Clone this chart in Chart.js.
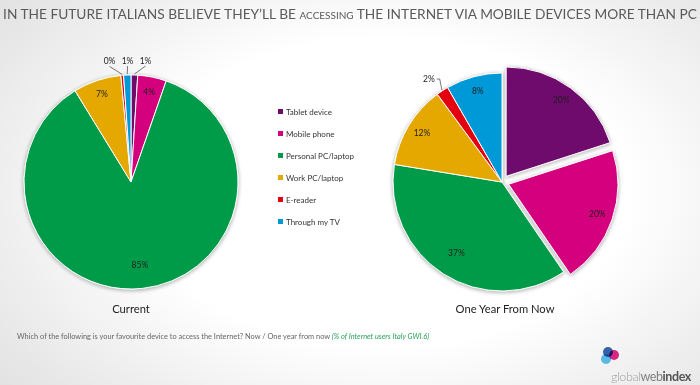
<!DOCTYPE html>
<html>
<head>
<meta charset="utf-8">
<script src="https://cdn.jsdelivr.net/npm/chart.js@4.4.1/dist/chart.umd.min.js"></script>
<style>
  html, body { margin: 0; padding: 0; }
  body {
    width: 700px; height: 385px; position: relative; overflow: hidden;
    font-family: Lato, "Open Sans", sans-serif;
    background: radial-gradient(ellipse 70% 80% at 55% 50%, #ffffff 50%, #e2e2e2 100%);
  }
  #title {
    position: absolute; left: 0; top: 3px; width: 700px; text-align: center;
    color: #5a5a5a; white-space: nowrap;
  }
  #title span.t { display: inline-block; font-size: 11px; }
  #title .sc { font-variant: small-caps; }
  canvas { position: absolute; }
  #leftPie { left: 0; top: 40px; }
  #rightPie { left: 372px; top: 40px; }
  #legend { position: absolute; left: 278px; top: 106px; font-size: 8px; color: #333; }
  #legend div { height: 22px; line-height: 12px; white-space: nowrap; }
  #legend i { display: inline-block; width: 5px; height: 5px; margin-right: 3px; vertical-align: 1px; }
  .caption { position: absolute; top: 302px; font-size: 11.2px; color: #222; text-align: center; width: 200px; }
  #footer { position: absolute; left: 17px; top: 332px; font-size: 7.4px; color: #666; white-space: nowrap; }
  #footer em { color: #2aa05a; }
  #logo { position: absolute; left: 598px; top: 344px; width: 100px; height: 40px; }
  #logo .dot { position: absolute; width: 10px; height: 10px; border-radius: 50%; mix-blend-mode: multiply; }
  #logo .d1 { left: 5px; top: 3px; background: #3667b3; }
  #logo .d2 { left: 11px; top: 6px; background: #e2288a; }
  #logo .d3 { left: 3px; top: 10px; background: #5cc3ec; }
  #logo .lt { position: absolute; left: 13px; top: 25px; font-size: 12.5px; letter-spacing: -0.4px; white-space: nowrap; }
  #logo .g { color: #a0a0a0; font-weight: 300; }
  #logo .w { color: #808080; }
  #logo .i { color: #555; font-weight: 700; }
</style>
</head>
<body>
<div id="title"><span class="t">IN THE FUTURE ITALIANS BELIEVE THEY’LL BE <span class="sc">accessing</span> THE INTERNET VIA MOBILE DEVICES MORE THAN PC</span></div>
<canvas id="leftPie" width="262" height="284"></canvas>
<canvas id="rightPie" width="260" height="284"></canvas>
<div id="legend"></div>
<div class="caption" style="left:31px">Current</div>
<div class="caption" style="left:405px">One Year From Now</div>
<div id="footer">Which of the following is your favourite device to access the Internet? Now / One year from now <em>(% of Internet users Italy GWI.6)</em></div>
<div id="logo">
  <span class="dot d1"></span><span class="dot d2"></span><span class="dot d3"></span>
  <div class="lt"><span class="g">global</span><span class="w">web</span><span class="i">index</span></div>
</div>
<script>
const devices = ["Tablet device", "Mobile phone", "Personal PC/laptop", "Work PC/laptop", "E-reader", "Through my TV"];
const currentShare = [1.0, 4.3, 85.4, 7.2, 0.4, 1.1];
const nextYearShare = [20.0, 20.4, 37.1, 12.3, 1.8, 8.3];
const deviceColors = ["#6e0b6c", "#d5007d", "#009b48", "#e5a800", "#e3000f", "#0099d8"];

// legend between the two pies
const legend = document.getElementById("legend");
devices.forEach((name, i) => {
  const row = document.createElement("div");
  row.innerHTML = `<i style="background:${deviceColors[i]}"></i>${name}`;
  legend.appendChild(row);
});

// stretch title to the full width like the slide
const titleText = document.querySelector("#title .t");
const tw = titleText.getBoundingClientRect().width;
titleText.style.fontSize = (11 * 694 / tw).toFixed(2) + "px";

// soft shadow under the pie, drawn before the real slices
const pieShadow = {
  id: "pieShadow",
  beforeDatasetsDraw(chart) {
    const ctx = chart.ctx;
    ctx.save();
    ctx.shadowColor = "rgba(0,0,0,0.3)";
    ctx.shadowBlur = 4;
    ctx.shadowOffsetY = 1;
    chart.getDatasetMeta(0).data.forEach((arc) => arc.draw(ctx));
    ctx.restore();
  },
};

// percentage labels, small slices go outside with a leader line
const pieLabels = {
  id: "pieLabels",
  afterDatasetsDraw(chart) {
    const ctx = chart.ctx;
    const values = chart.data.datasets[0].data;
    const outside = [];
    ctx.save();
    ctx.font = "8.5px Lato";
    ctx.fillStyle = "#1e1e1e";
    ctx.textBaseline = "middle";
    chart.getDatasetMeta(0).data.forEach((arc, i) => {
      const p = arc.getProps(["x", "y", "startAngle", "endAngle", "outerRadius"], true);
      const mid = (p.startAngle + p.endAngle) / 2;
      const shift = (arc.options.offset || 0) / 4;
      const cx = p.x + Math.cos(mid) * shift;
      const cy = p.y + Math.sin(mid) * shift;
      const text = Math.round(values[i]) + "%";
      if (values[i] < 3) {
        const r = p.outerRadius + 14;
        outside.push({
          text, mid,
          x: cx + Math.cos(mid) * r, y: cy + Math.sin(mid) * r,
          ex: cx + Math.cos(mid) * (p.outerRadius + 1), ey: cy + Math.sin(mid) * (p.outerRadius + 1),
        });
      } else {
        const k = values[i] > 30 ? 0.78 : 0.86;
        ctx.textAlign = "center";
        ctx.fillText(text, cx + Math.cos(mid) * p.outerRadius * k, cy + Math.sin(mid) * p.outerRadius * k);
      }
    });
    // spread crowded outside labels apart horizontally
    outside.sort((a, b) => a.x - b.x);
    if (outside.length > 1) {
      const before = outside.reduce((s, o) => s + o.x, 0) / outside.length;
      for (let i = 1; i < outside.length; i++) {
        if (outside[i].x - outside[i - 1].x < 18) outside[i].x = outside[i - 1].x + 18;
      }
      const after = outside.reduce((s, o) => s + o.x, 0) / outside.length;
      outside.forEach((o) => (o.x -= after - before));
    }
    ctx.strokeStyle = "#555";
    ctx.lineWidth = 0.8;
    outside.forEach((o) => {
      const side = Math.cos(o.mid);
      ctx.beginPath();
      if (side < -0.3) {
        ctx.textAlign = "right";
        ctx.moveTo(o.x + 2, o.y);
        ctx.lineTo(o.x + 5, o.y);
      } else if (side > 0.3) {
        ctx.textAlign = "left";
        ctx.moveTo(o.x - 2, o.y);
        ctx.lineTo(o.x - 5, o.y);
      } else {
        ctx.textAlign = "center";
        ctx.moveTo(o.x, o.y + 5);
      }
      ctx.lineTo(o.ex, o.ey);
      ctx.stroke();
      ctx.fillText(o.text, o.x, o.y);
    });
    ctx.restore();
  },
};

function makePie(id, values, radius, offsets) {
  return new Chart(document.getElementById(id), {
    type: "pie",
    data: {
      labels: devices,
      datasets: [
        {
          data: values,
          backgroundColor: deviceColors,
          borderColor: "#fff",
          borderWidth: 1,
          offset: offsets,
        },
      ],
    },
    options: {
      responsive: false,
      devicePixelRatio: 1,
      animation: false,
      radius: radius,
      events: [],
      plugins: { legend: { display: false }, tooltip: { enabled: false } },
    },
    plugins: [pieShadow, pieLabels],
  });
}

makePie("leftPie", currentShare, 107, 0);
makePie("rightPie", nextYearShare, 109, [28, 28, 0, 0, 0, 0]);
</script>
</body>
</html>
